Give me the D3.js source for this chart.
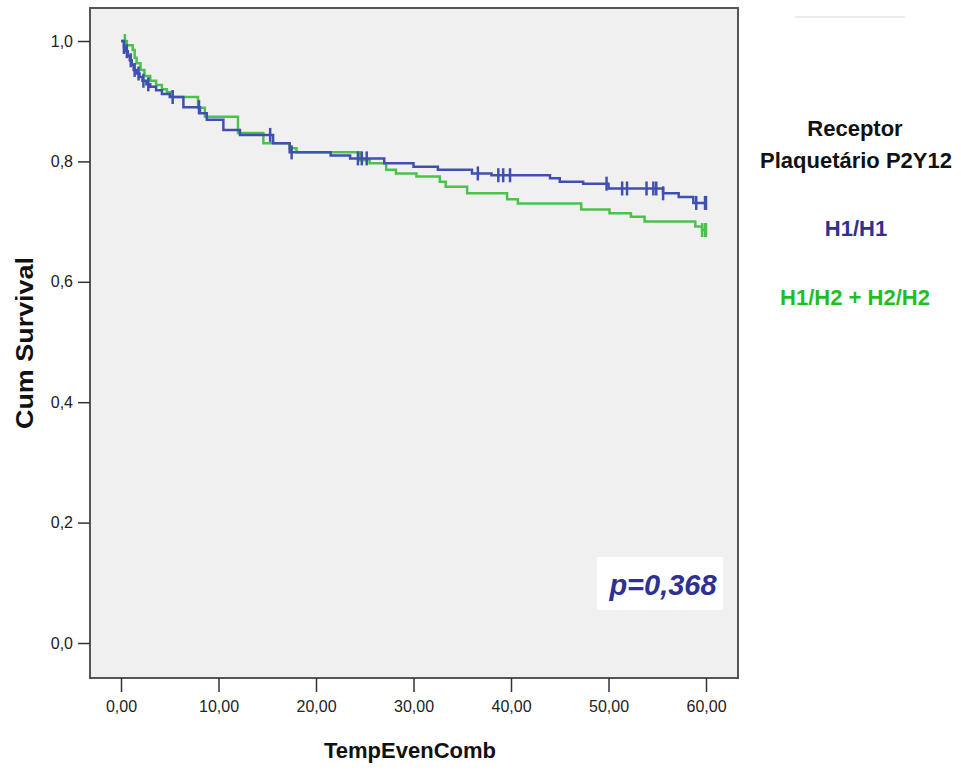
<!DOCTYPE html>
<html><head><meta charset="utf-8">
<script src="https://cdn.jsdelivr.net/npm/d3@7"></script>
<style>
body{margin:0;background:#fff;}
svg{display:block;}
text{font-family:"Liberation Sans Narrow","Arial Narrow","Liberation Sans",Arial,sans-serif;}
</style></head>
<body>
<script>
// ---- Data ----
const xTicks = [0, 10, 20, 30, 40, 50, 60];
const yTicks = [0, 0.2, 0.4, 0.6, 0.8, 1.0];

// H1/H1 (blue): step times and survival after each step
const blueTimes = [0, 0.3, 0.5, 0.7, 0.9, 1.1, 1.3, 1.6, 1.9, 2.2, 2.6, 3.0, 3.6, 4.2, 5.0, 6.4, 8.1, 8.8, 10.5, 12.2, 15.6, 17.3, 21.5, 23.5, 27.0, 30.0, 32.5, 36.0, 38.0, 44.0, 45.0, 47.4, 50.0, 55.6, 57.2, 58.7];
const blueSurv  = [1.0, 0.99, 0.983, 0.975, 0.968, 0.96, 0.952, 0.946, 0.94, 0.934, 0.928, 0.924, 0.918, 0.912, 0.907, 0.89, 0.88, 0.869, 0.852, 0.844, 0.83, 0.815, 0.81, 0.805, 0.797, 0.791, 0.786, 0.78, 0.777, 0.772, 0.766, 0.763, 0.755, 0.747, 0.741, 0.731];
const blueCensor = [0.3, 0.6, 1.0, 1.4, 1.8, 2.3, 2.8, 5.3, 8.0, 15.3, 17.5, 24.3, 24.7, 25.2, 36.6, 38.7, 39.2, 39.9, 49.8, 51.4, 51.9, 53.9, 54.6, 54.9, 55.6, 59.0, 59.9, 60.0];

// H1/H2 + H2/H2 (green)
const greenTimes = [0, 0.6, 1.2, 1.4, 1.6, 2.0, 2.4, 3.0, 3.6, 4.2, 4.7, 5.3, 7.9, 8.6, 12.0, 14.6, 17.3, 18.0, 24.5, 25.5, 27.2, 28.2, 30.3, 32.7, 33.3, 35.5, 39.6, 40.7, 47.2, 50.1, 52.3, 53.7, 58.9, 59.6];
const greenSurv  = [1.0, 0.993, 0.985, 0.972, 0.963, 0.952, 0.942, 0.934, 0.927, 0.92, 0.915, 0.907, 0.889, 0.874, 0.847, 0.83, 0.822, 0.815, 0.802, 0.797, 0.786, 0.78, 0.775, 0.766, 0.758, 0.747, 0.737, 0.73, 0.72, 0.714, 0.708, 0.70, 0.692, 0.686];
const greenCensor = [0.4, 59.6, 59.9, 60.0];

const seriesNames = ["H1/H1", "H1/H2 + H2/H2"];
const seriesColors = ["#3f50b0", "#4cc24c"];
const legendColors = ["#2e3192", "#1fbf1f"];
const pValueText = "p=0,368";

// ---- Layout ----
const W = 961, H = 770;
const frame = {x0: 90, x1: 738, y0: 8, y1: 678};
const x = d3.scaleLinear().domain([0, 60]).range([121, 706]);
const y = d3.scaleLinear().domain([0, 1]).range([643, 41]);
const comma = s => s.replace(".", ",");

const svg = d3.select("body").append("svg").attr("width", W).attr("height", H);

// faint line top right
svg.append("line").attr("x1", 795).attr("x2", 905).attr("y1", 17).attr("y2", 17)
  .attr("stroke", "#e4e4e4").attr("stroke-width", 1.5);

svg.append("rect").attr("x", frame.x0).attr("y", frame.y0)
  .attr("width", frame.x1 - frame.x0).attr("height", frame.y1 - frame.y0)
  .attr("fill", "#f0f0f0").attr("stroke", "#555").attr("stroke-width", 2);

// axes
const yAxis = d3.axisLeft(y).tickValues(yTicks).tickSize(12).tickPadding(5)
  .tickFormat(d => comma(d3.format(".1f")(d)));
const gy = svg.append("g").attr("transform", `translate(${frame.x0},0)`).call(yAxis);
gy.select(".domain").remove();
gy.selectAll(".tick line").attr("stroke", "#333").attr("stroke-width", 1.5);
gy.selectAll(".tick text").attr("font-size", 16).attr("fill", "#222");

const xAxis = d3.axisBottom(x).tickValues(xTicks).tickSize(14).tickPadding(9)
  .tickFormat(d => comma(d3.format(".2f")(d)));
const gx = svg.append("g").attr("transform", `translate(0,${frame.y1})`).call(xAxis);
gx.select(".domain").remove();
gx.selectAll(".tick line").attr("stroke", "#333").attr("stroke-width", 1.5);
gx.selectAll(".tick text").attr("font-size", 16).attr("fill", "#222");

// axis titles
svg.append("text").attr("x", 410).attr("y", 758).attr("text-anchor", "middle")
  .attr("font-size", 22).attr("font-weight", "bold").attr("fill", "#111").text("TempEvenComb");
svg.append("text").attr("transform", "translate(33,343) rotate(-90)").attr("text-anchor", "middle")
  .attr("font-size", 23).attr("font-weight", "bold").attr("fill", "#111")
  .attr("textLength", 172).attr("lengthAdjust", "spacingAndGlyphs").text("Cum Survival");

// curves
const line = d3.line().x(d => x(d[0])).y(d => y(d[1])).curve(d3.curveStepAfter);
function survAt(times, surv, t) {
  let s = surv[0];
  for (let i = 0; i < times.length; i++) if (times[i] <= t) s = surv[i];
  return s;
}
const series = [
  {times: blueTimes, surv: blueSurv, cens: blueCensor},
  {times: greenTimes, surv: greenSurv, cens: greenCensor}
];
// draw green first then blue on top
[1, 0].forEach(i => {
  const s = series[i];
  const pts = s.times.map((t, k) => [t, s.surv[k]]);
  const tEnd = d3.max(s.cens);
  pts.push([tEnd, survAt(s.times, s.surv, tEnd)]);
  svg.append("path").datum(pts).attr("d", line).attr("fill", "none")
    .attr("stroke", seriesColors[i]).attr("stroke-width", 2.5);
  svg.append("g").selectAll("line").data(s.cens).join("line")
    .attr("x1", d => x(d)).attr("x2", d => x(d))
    .attr("y1", d => y(survAt(s.times, s.surv, d)) - 7)
    .attr("y2", d => y(survAt(s.times, s.surv, d)) + 7)
    .attr("stroke", seriesColors[i]).attr("stroke-width", 2.5);
});

// p-value box
svg.append("rect").attr("x", 597).attr("y", 557).attr("width", 126).attr("height", 53).attr("fill", "#fff");
svg.append("text").attr("x", 663).attr("y", 595).attr("text-anchor", "middle")
  .attr("font-size", 29).attr("font-weight", "bold").attr("font-style", "italic")
  .attr("fill", "#2e3192").text(pValueText);

// legend
svg.append("text").attr("x", 855).attr("y", 136).attr("text-anchor", "middle")
  .attr("font-size", 22).attr("font-weight", "bold").attr("fill", "#111").text("Receptor");
svg.append("text").attr("x", 856).attr("y", 168).attr("text-anchor", "middle")
  .attr("font-size", 22).attr("font-weight", "bold").attr("fill", "#111").text("Plaquetário P2Y12");
svg.append("text").attr("x", 856).attr("y", 236).attr("text-anchor", "middle")
  .attr("font-size", 22).attr("font-weight", "bold").attr("fill", legendColors[0]).text(seriesNames[0]);
svg.append("text").attr("x", 855).attr("y", 305).attr("text-anchor", "middle")
  .attr("font-size", 22).attr("font-weight", "bold").attr("fill", legendColors[1]).text(seriesNames[1]);
</script>
</body></html>
